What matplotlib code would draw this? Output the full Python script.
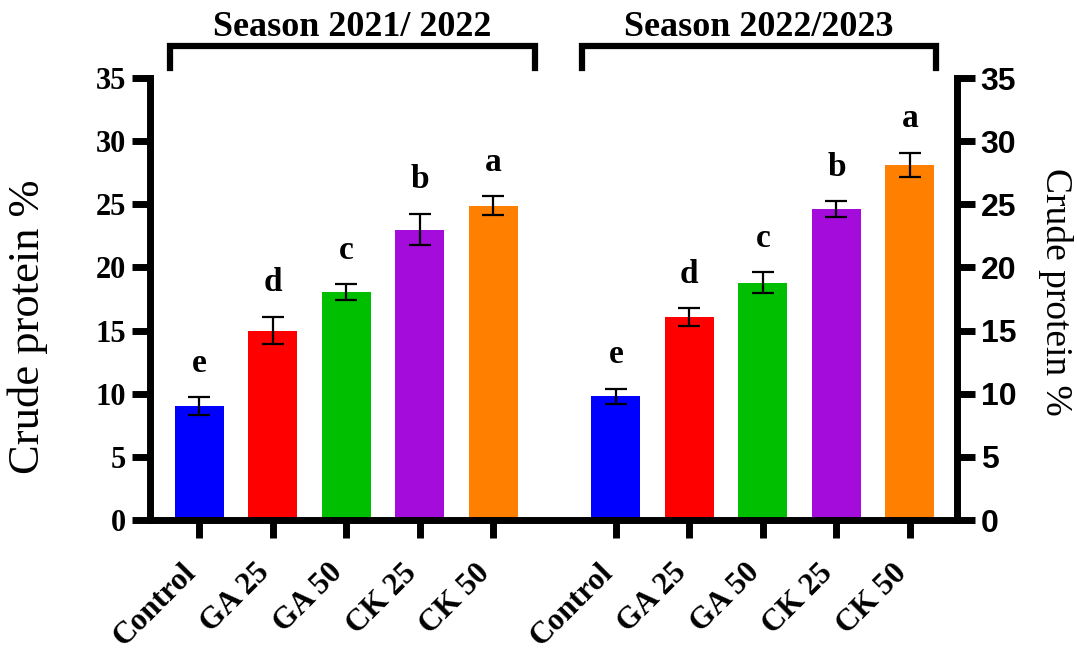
import numpy as np
import matplotlib.pyplot as plt
from matplotlib.transforms import ScaledTranslation

# Crude protein (%) for two seasons, mean and error
treatments = ['Control', 'GA 25', 'GA 50', 'CK 25', 'CK 50']
season1 = [9.05, 15.0, 18.05, 23.0, 24.9]
season1_err = [0.7, 1.1, 0.6, 1.25, 0.75]
season2 = [9.8, 16.1, 18.8, 24.65, 28.15]
season2_err = [0.6, 0.7, 0.85, 0.62, 0.95]
letters1 = ['e', 'd', 'c', 'b', 'a']
letters2 = ['e', 'd', 'c', 'b', 'a']
seasons = ['Season 2021/ 2022', 'Season 2022/2023']
colors = ['#0000FF', '#FF0000', '#00BE00', '#A40CDC', '#FF8000']

serif = 'Liberation Serif'
sans = 'Liberation Sans'
W, H = 1077, 655

fig = plt.figure(figsize=(W / 100, H / 100), dpi=100)
ax = fig.add_axes([150 / W, 1 - 520 / H, 807 / W, 442 / H])

x1 = np.arange(5)
x2 = np.arange(5) + 5.67
lw = 5.0

for xs, vals, errs, lets in [(x1, season1, season1_err, letters1),
                             (x2, season2, season2_err, letters2)]:
    ax.bar(xs, vals, width=0.667, color=colors, zorder=2)
    ax.errorbar(xs, vals, yerr=errs, fmt='none', ecolor='black',
                elinewidth=1.6, capsize=8, capthick=1.6, zorder=3)
    for x, v, e, t in zip(xs, vals, errs, lets):
        ax.text(x, v + e + 2.0, t, ha='center', va='baseline',
                fontsize=24, fontweight='bold', family=serif)

ax.set_xlim(-0.667, 10.31)
ax.set_ylim(0, 35)
ax.set_yticks(np.arange(0, 36, 5))
ax.set_xticks(np.concatenate([x1, x2]))

for s in ['top', 'right']:
    ax.spines[s].set_visible(False)
for s in ['left', 'bottom']:
    ax.spines[s].set_linewidth(lw)
    ax.spines[s].set_capstyle('projecting')
ax.tick_params(axis='both', width=lw, length=13)
ax.tick_params(axis='x', pad=14)
ax.tick_params(axis='y', pad=4)

ax.set_xticklabels(treatments * 2, rotation=45, ha='right', va='center',
                   rotation_mode='anchor', fontsize=22.5, fontweight='bold',
                   family=serif)
# push the slanted labels a little down and left
shift = ScaledTranslation(-5.5 / 72, -8 / 72, fig.dpi_scale_trans)
for lab in ax.get_xticklabels():
    lab.set_transform(lab.get_transform() + shift)
for lab in ax.get_yticklabels():
    lab.set_fontsize(22)
    lab.set_fontweight('bold')
    lab.set_family(serif)

# right-hand axis for the second season
ax2 = ax.twinx()
ax2.set_ylim(0, 35)
ax2.set_yticks(np.arange(0, 36, 5))
for s in ['top', 'left', 'bottom']:
    ax2.spines[s].set_visible(False)
ax2.spines['right'].set_linewidth(lw)
ax2.spines['right'].set_capstyle('projecting')
ax2.tick_params(axis='y', width=lw, length=13, pad=4)
for lab in ax2.get_yticklabels():
    lab.set_fontsize(23)
    lab.set_fontweight('bold')
    lab.set_family(sans)

# axis titles on both sides
fig.text(28 / W, 1 - 327 / H, 'Crude protein %', rotation=90, ha='center',
         va='center', fontsize=32, family=serif)
fig.text(1056 / W, 1 - 292 / H, 'Crude protein %', rotation=-90,
         ha='center', va='center', fontsize=27, family=serif)

# season brackets above each group
def bracket(x0, x1_, label):
    y_top, y_bot = 1 - 46 / H, 1 - 68 / H
    fig.add_artist(plt.Line2D([x0 / W, x0 / W, x1_ / W, x1_ / W],
                              [y_bot, y_top, y_top, y_bot],
                              transform=fig.transFigure, color='black',
                              linewidth=4.5, solid_joinstyle='miter'))
    fig.text((x0 + x1_) / 2 / W, 1 - 36 / H, label, ha='center',
             va='baseline', fontsize=26, fontweight='bold', family=serif)

bracket(170, 535, seasons[0])
bracket(582, 936, seasons[1])

fig.savefig('out.png', dpi=100)
